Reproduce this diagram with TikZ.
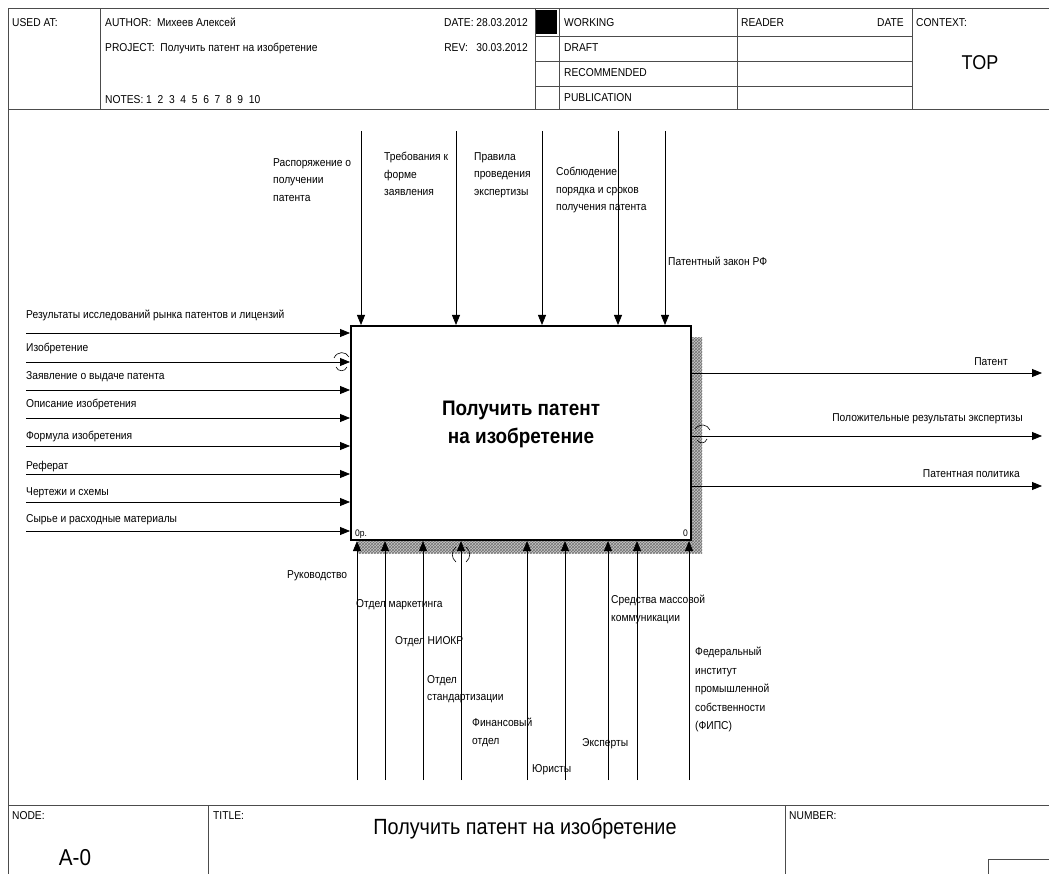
\documentclass[tikz,border=0pt]{standalone}
\usepackage{fontspec}
\setmainfont{Liberation Sans}[FakeStretch=0.9]
\usetikzlibrary{arrows.meta,patterns}
\newcommand\lblfont{\fontsize{11.4}{17.5}\selectfont}
\newcommand\lblfontb{\fontsize{11.4}{18.5}\selectfont}
\begin{document}
\begin{tikzpicture}[x=1pt,y=-1pt,
  frm/.style={draw=black!70, line width=1pt},
  lbl/.style={font=\lblfont, inner sep=0pt, align=left},
  lblb/.style={font=\lblfontb, inner sep=0pt, align=left},
  arr/.style={draw=black, line width=0.8pt, -{Triangle[length=10pt,width=8pt]}},
  tun/.style={draw=black, line width=0.6pt},
  shade/.style={fill=black!22, postaction={pattern=crosshatch, pattern color=black!55}}]
\useasboundingbox (0,0) rectangle (1049,874);
\fill[white] (0,0) rectangle (1049,874);

% ---------- header ----------
\draw[frm] (1049,9) -- (8,9) -- (8,874);
\draw[frm] (8,110) -- (1049,110);
\draw[frm] (100,9) -- (100,110);
\draw[frm] (535,9) -- (535,110);
\draw[frm] (559,9) -- (559,110);
\draw[frm] (737,9) -- (737,110);
\draw[frm] (912,9) -- (912,110);
\draw[frm] (535,37) -- (912,37);
\draw[frm] (535,62) -- (912,62);
\draw[frm] (535,87) -- (912,87);
\fill[black] (536,10) rectangle (557,34);

\node[lbl, anchor=base west] (usedat) at (12,27) {USED AT:};
\node[lbl, anchor=base west] (author) at (105,27) {AUTHOR:\ \ Михеев Алексей};
\node[lbl, anchor=base east] (date) at (528,27) {DATE: 28.03.2012};
\node[lbl, anchor=base west] (project) at (105,52) {PROJECT:\ \ Получить патент на изобретение};
\node[lbl, anchor=base east] (rev) at (528,52) {REV:\ \ \ 30.03.2012};
\node[lbl, anchor=base west] (notes) at (105,104) {NOTES:\ 1\ \ 2\ \ 3\ \ 4\ \ 5\ \ 6\ \ 7\ \ 8\ \ 9\ \ 10};
\node[lbl, anchor=base west] (working) at (564,27) {WORKING};
\node[lbl, anchor=base west] (draft) at (564,52) {DRAFT};
\node[lbl, anchor=base west] (recom) at (564,77) {RECOMMENDED};
\node[lbl, anchor=base west] (publ) at (564,102) {PUBLICATION};
\node[lbl, anchor=base west] (reader) at (741,27) {READER};
\node[lbl, anchor=base east] (rdate) at (904,27) {DATE};
\node[lbl, anchor=base west] (context) at (916,27) {CONTEXT:};
\node[font=\fontsize{20}{20}\selectfont, inner sep=0pt] (top) at (980,63) {TOP};

% ---------- main box ----------
\path[shade] (692,338) rectangle (702,553);
\path[shade] (358,541) rectangle (692,553);
\node[draw=black, fill=white, line width=2pt, minimum width=340pt, minimum height=214pt, inner sep=0pt] (box) at (521,433) {};
\node[font=\bfseries\fontsize{21}{28}\selectfont, align=center, inner sep=0pt] (boxtxt) at (521,424) {Получить патент\\на изобретение};
\node[font=\fontsize{9.5}{10}\selectfont, inner sep=0pt, anchor=base west] (num0p) at (355,536) {0р.};
\node[font=\fontsize{9.5}{10}\selectfont, inner sep=0pt, anchor=base east] (num0) at (688,536) {0};

% ---------- controls (top) ----------
\coordinate (t1) at (361,131);
\coordinate (t2) at (456,131);
\coordinate (t3) at (542,131);
\coordinate (t4) at (618,131);
\coordinate (t5) at (665,131);
\foreach \c in {t1,t2,t3,t4,t5} \draw[arr] (\c) -- (\c |- box.north);
\node[lbl, anchor=north west] (c1) at (273,158) {Распоряжение о\\получении\\патента};
\node[lbl, anchor=north west] (c2) at (384,152) {Требования к\\форме\\заявления};
\node[lbl, anchor=north west] (c3) at (474,152) {Правила\\проведения\\экспертизы};
\node[lbl, anchor=north west] (c4) at (556,167) {Соблюдение\\порядка и сроков\\получения патента};
\node[lbl, anchor=base west] (c5) at (668,266) {Патентный закон РФ};

% ---------- inputs (left) ----------
\coordinate (i1) at (26,333);
\coordinate (i2) at (26,362);
\coordinate (i3) at (26,390);
\coordinate (i4) at (26,418);
\coordinate (i5) at (26,446);
\coordinate (i6) at (26,474);
\coordinate (i7) at (26,502);
\coordinate (i8) at (26,531);
\foreach \c in {i1,i2,i3,i4,i5,i6,i7,i8} \draw[arr] (\c) -- (\c -| box.west);
\node[lbl, anchor=base west] (in1) at (26,319) {Результаты исследований рынка патентов и лицензий};
\node[lbl, anchor=base west] (in2) at (26,352) {Изобретение};
\node[lbl, anchor=base west] (in3) at (26,379) {Заявление о выдаче патента};
\node[lbl, anchor=base west] (in4) at (26,407) {Описание изобретения};
\node[lbl, anchor=base west] (in5) at (26,439) {Формула изобретения};
\node[lbl, anchor=base west] (in6) at (26,469) {Реферат};
\node[lbl, anchor=base west] (in7) at (26,495) {Чертежи и схемы};
\node[lbl, anchor=base west] (in8) at (26,522) {Сырье и расходные материалы};
\draw[tun] (334,358) .. controls (337,351) and (346,351) .. (349,357);
\draw[tun] (336,367) .. controls (338,372) and (345,372) .. (347,367);

% ---------- outputs (right) ----------
\coordinate (o1) at (1042,373);
\coordinate (o2) at (1042,436);
\coordinate (o3) at (1042,486);
\foreach \c in {o1,o2,o3} \draw[arr] (\c -| box.east) -- (\c);
\node[lbl, anchor=base east] (out1) at (1008,366) {Патент};
\node[lbl, anchor=base east] (out2) at (1023,421) {Положительные результаты экспертизы};
\node[lbl, anchor=base east] (out3) at (1020,477) {Патентная политика};
\draw[tun] (695,429) .. controls (700,423) and (707,424) .. (710,430);
\draw[tun] (697,440) .. controls (700,444) and (705,444) .. (707,439);

% ---------- mechanisms (bottom) ----------
\coordinate (m1) at (357,780);
\coordinate (m2) at (385,780);
\coordinate (m3) at (423,780);
\coordinate (m4) at (461,780);
\coordinate (m5) at (527,780);
\coordinate (m6) at (565,780);
\coordinate (m7) at (608,780);
\coordinate (m8) at (637,780);
\coordinate (m9) at (689,780);
\foreach \c in {m1,m2,m3,m4,m5,m6,m7,m8,m9} \draw[arr] (\c) -- (\c |- box.south);
\draw[tun] (456,547) .. controls (451,551) and (451,558) .. (456,562);
\draw[tun] (466,547) .. controls (471,551) and (471,558) .. (466,562);
\node[lbl, anchor=base west] (mc1) at (287,578) {Руководство};
\node[lbl, anchor=base west] (mc2) at (356,607) {Отдел маркетинга};
\node[lbl, anchor=base west] (mc3) at (395,644) {Отдел НИОКР};
\node[lbl, anchor=north west] (mc4) at (427,675) {Отдел\\стандартизации};
\node[lbl, anchor=north west] (mc5) at (472,718) {Финансовый\\отдел};
\node[lbl, anchor=base west] (mc6) at (532,772) {Юристы};
\node[lbl, anchor=base west] (mc7) at (582,746) {Эксперты};
\node[lbl, anchor=north west] (mc8) at (611,595) {Средства массовой\\коммуникации};
\node[lblb, anchor=north west] (mc9) at (695,647) {Федеральный\\институт\\промышленной\\собственности\\(ФИПС)};

% ---------- footer ----------
\draw[frm] (8,805) -- (1049,805);
\draw[frm] (208,805) -- (208,874);
\draw[frm] (785,805) -- (785,874);
\draw[frm] (988,874) -- (988,859) -- (1049,859);
\node[lbl, anchor=base west] (node) at (12,819) {NODE:};
\node[lbl, anchor=base west] (title) at (213,819) {TITLE:};
\node[lbl, anchor=base west] (number) at (789,819) {NUMBER:};
\node[font=\fontsize{22}{22}\selectfont, inner sep=0pt] (ttl) at (525,829) {Получить патент на изобретение};
\node[font=\fontsize{23}{23}\selectfont, inner sep=0pt] (a0) at (75,858) {A-0};
\end{tikzpicture}
\end{document}
